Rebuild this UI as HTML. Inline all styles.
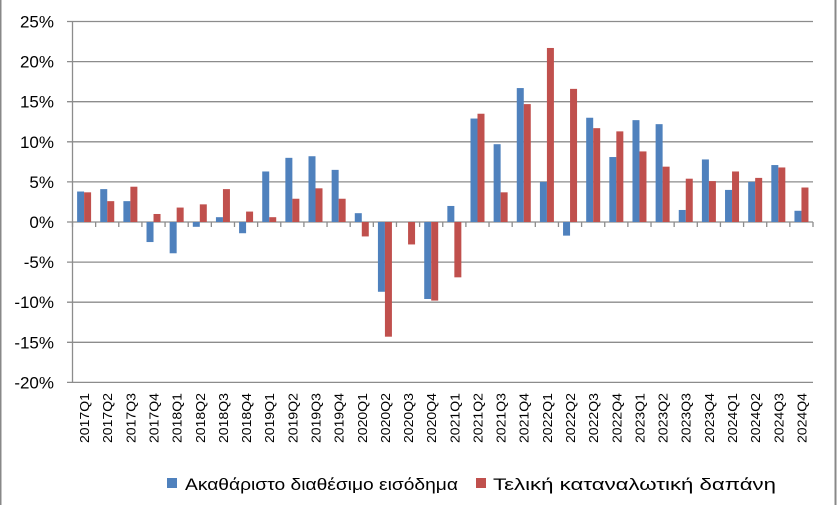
<!DOCTYPE html>
<html><head><meta charset="utf-8"><style>
html,body{margin:0;padding:0;background:#fff}
svg{display:block;font-family:"Liberation Sans",sans-serif}
</style></head><body>
<svg width="837" height="505" xmlns="http://www.w3.org/2000/svg">
<rect x="0.5" y="-1" width="835" height="507" fill="#fff" stroke="#888" stroke-width="2"/>
<g id="grid" stroke="#8c8c8c" stroke-width="1.3"></g>
<g id="bars"></g>
<g id="ylab" font-size="17" fill="#000" text-anchor="end"></g>
<g id="xlab" font-size="13" fill="#000"></g>
<rect x="167" y="478" width="10" height="10" fill="#4f81bd"/>
<text x="185" y="490" font-size="17" textLength="273" lengthAdjust="spacingAndGlyphs">Ακαθάριστο διαθέσιμο εισόδημα</text>
<rect x="476" y="478" width="10" height="10" fill="#c0504d"/>
<text x="493" y="490" font-size="17" textLength="283" lengthAdjust="spacingAndGlyphs">Τελική καταναλωτική δαπάνη</text>
<script>
var ns="http://www.w3.org/2000/svg";
function el(p,t,a,txt){var e=document.createElementNS(ns,t);for(var k in a)e.setAttribute(k,a[k]);if(txt!=null)e.textContent=txt;document.getElementById(p).appendChild(e);}
var x0=72.5,x1=813,cw=(x1-x0)/32,y0=222,k=40.1/5;
for(var v=25;v>=-20;v-=5){var y=y0-v*k;el("grid","line",{x1:67,x2:x1,y1:y,y2:y});el("ylab","text",{x:54,y:y+6},v+"%");}
el("grid","line",{x1:x0,x2:x0,y1:21,y2:383});
for(var i=0;i<=32;i++){var x=x0+i*cw;el("grid","line",{x1:x,x2:x,y1:222,y2:227});}
var b=[3.8,4.1,2.6,-2.5,-3.9,-0.6,0.6,-1.4,6.3,8.0,8.2,6.5,1.1,-8.7,0,-9.6,2.0,12.9,9.7,16.7,5.0,-1.7,13.0,8.1,12.7,12.2,1.5,7.8,4.0,5.0,7.1,1.4];
var r=[3.7,2.6,4.4,1.0,1.8,2.2,4.1,1.3,0.6,2.9,4.2,2.9,-1.8,-14.3,-2.8,-9.8,-6.9,13.5,3.7,14.7,21.7,16.6,11.7,11.3,8.8,6.9,5.4,5.1,6.3,5.5,6.8,4.3];
var bw=7;
for(var i=0;i<32;i++){
 var x=x0+i*cw+4.6;
 [[b[i],"#4f81bd",0],[r[i],"#c0504d",bw]].forEach(function(s){var v=s[0];if(!v)return;var y=v>0?y0-v*k:y0;el("bars","rect",{x:x+s[2],y:y,width:bw,height:Math.abs(v)*k,fill:s[1]});});
 var yr=2017+Math.floor(i/4),q=i%4+1,cx=x0+(i+0.5)*cw+5;
 el("xlab","text",{x:cx,y:443,transform:"rotate(-90 "+cx+" 443)",textLength:50,lengthAdjust:"spacingAndGlyphs"},yr+"Q"+q);
}
</script>
</svg>
</body></html>
